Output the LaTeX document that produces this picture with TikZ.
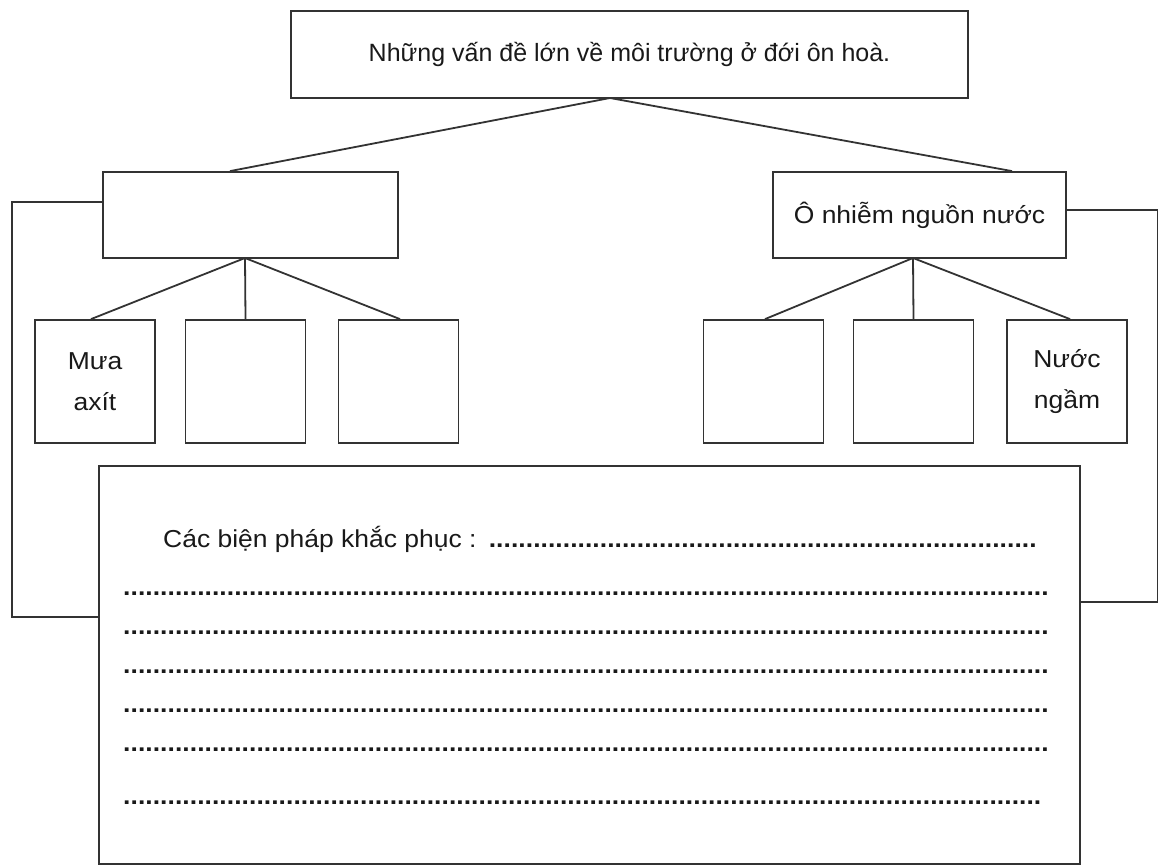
\documentclass[tikz,border=0pt]{standalone}
\usepackage{fontspec}
\setmainfont[FakeStretch=1.08]{Liberation Sans}
\newfontfamily\topfont{Liberation Sans}
\newcommand{\dotlead}{\leaders\hbox to 7.4pt{\hss\bfseries.\hss}\hfill}
\begin{document}
\begin{tikzpicture}[x=1pt,y=-1pt,
  ink/.style={draw=black!80,line width=1.8pt},
  box/.style={ink,rectangle,inner sep=0pt,align=center,text=black!90,
    font=\fontsize{24.5}{41}\selectfont},
  subbox/.style={box,minimum width=120pt,minimum height=123pt},
  conn/.style={ink},
  dotrow/.style={anchor=base west,inner sep=0pt,text=black!90,
    font=\fontsize{24.5}{28}\selectfont}]
\useasboundingbox (0,0) rectangle (1158,865);
% main boxes
\node[box,minimum width=677pt,minimum height=87pt] (top) at (629.5,54.5)
  {\topfont\fontsize{25}{28}\selectfont Những vấn đề lớn về môi trường ở đới ôn hoà.};
\node[box,minimum width=295pt,minimum height=86pt] (leftbox) at (250.5,215) {};
\node[box,minimum width=293pt,minimum height=86pt] (rightbox) at (919.5,215) {Ô nhiễm nguồn nước};
% sub boxes
\node[subbox] (l1) at (95,381.5) {Mưa\\axít};
\node[subbox] (l2) at (245.5,381.5) {};
\node[subbox] (l3) at (398.5,381.5) {};
\node[subbox] (r1) at (763.5,381.5) {};
\node[subbox] (r2) at (913.5,381.5) {};
\node[subbox] (r3) at (1067,381.5) {Nước\\ngầm};
% bottom box
\node[box,minimum width=981pt,minimum height=398pt] (bottom) at (589.5,665) {};
% connectors
\coordinate (tj) at (610,98);
\draw[conn] (tj) -- ([xshift=-20.5pt]leftbox.north);
\draw[conn] (tj) -- ([xshift=92.5pt]rightbox.north);
\coordinate (lj) at (245,258);
\draw[conn] (lj) -- ([xshift=-4pt]l1.north);
\draw[conn] (lj) -- (l2.north);
\draw[conn] (lj) -- ([xshift=1.5pt]l3.north);
\coordinate (rj) at (913,258);
\draw[conn] (rj) -- ([xshift=1.5pt]r1.north);
\draw[conn] (rj) -- (r2.north);
\draw[conn] (rj) -- ([xshift=3pt]r3.north);
% brackets
\draw[conn] ([yshift=13pt]leftbox.west) -- ++(-90,0) |- ([yshift=48pt]bottom.west);
\draw[conn] ([yshift=5pt]rightbox.east) -- ++(91,0) |- ([yshift=63pt]bottom.east);
% dotted rows
\node[dotrow] (row0) at (163,547) {\hbox to 877pt{Các biện pháp khắc phục :~\dotlead}};
\node[dotrow] (row1) at (123,595) {\hbox to 932pt{\dotlead}};
\node[dotrow] (row2) at (123,634) {\hbox to 932pt{\dotlead}};
\node[dotrow] (row3) at (123,673) {\hbox to 932pt{\dotlead}};
\node[dotrow] (row4) at (123,712) {\hbox to 932pt{\dotlead}};
\node[dotrow] (row5) at (123,751) {\hbox to 932pt{\dotlead}};
\node[dotrow] (row6) at (123,804) {\hbox to 924pt{\dotlead}};
\end{tikzpicture}
\end{document}
